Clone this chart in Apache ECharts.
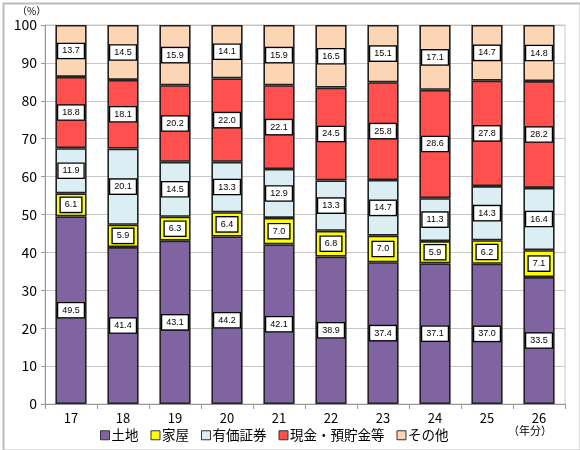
<!DOCTYPE html>
<html><head><meta charset="utf-8">
<script src="https://cdn.jsdelivr.net/npm/echarts@6/dist/echarts.min.js"></script>
<style>html,body{margin:0;padding:0;background:#fff}#c{width:580px;height:450px}</style>
</head><body><div id="c"></div>
<script>
const categories = ['17','18','19','20','21','22','23','24','25','26'];
const seriesNames = ['土地','家屋','有価証券','現金・預貯金等','その他'];
const land = [49.5,41.4,43.1,44.2,42.1,38.9,37.4,37.1,37.0,33.5];
const house = [6.1,5.9,6.3,6.4,7.0,6.8,7.0,5.9,6.2,7.1];
const securities = [11.9,20.1,14.5,13.3,12.9,13.3,14.7,11.3,14.3,16.4];
const cash = [18.8,18.1,20.2,22.0,22.1,24.5,25.8,28.6,27.8,28.2];
const other = [13.7,14.5,15.9,14.1,15.9,16.5,15.1,17.1,14.7,14.8];
const yTicks = [0,10,20,30,40,50,60,70,80,90,100];

const colors = ['#8064A2','#FFFF00','#DAEEF3','#FF5050','#FCD5B5'];
const allData = [land, house, securities, cash, other];
const font = '"Noto Sans CJK JP", "Noto Sans", sans-serif';

const chart = echarts.init(document.getElementById('c'));
chart.setOption({
  animation:false,
  textStyle:{fontFamily:font},
  grid:{left:45,right:15,top:25,bottom:46,show:true,borderColor:'#c8c8c8',borderWidth:1},
  legend:{bottom:3,left:95,itemWidth:9,itemHeight:9,itemGap:12,
    textStyle:{fontSize:13.5,color:'#000',fontFamily:font,padding:[0,0,0,-3]},
    data:seriesNames.map((n,i)=>({name:n,icon:'rect',itemStyle:{borderColor:'#333',borderWidth:1}}))},
  xAxis:{type:'category',data:categories,
    axisLine:{lineStyle:{color:'#999'}},
    axisTick:{show:true,lineStyle:{color:'#999'},length:5},
    axisLabel:{color:'#000',fontSize:13,margin:8}},
  yAxis:{type:'value',min:0,max:100,interval:10,
    axisLine:{show:true,lineStyle:{color:'#999'}},
    axisTick:{show:true,inside:false,length:4,lineStyle:{color:'#999'}},
    splitLine:{lineStyle:{color:'#c8c8c8'}},
    axisLabel:{color:'#000',fontSize:14,margin:8,
      formatter:v=>yTicks.includes(v)?String(v):''}},
  graphic:[
    {type:'rect',left:1,top:1,shape:{width:577,height:447},style:{fill:'none',stroke:'#bbb',lineWidth:2},silent:true},
    {type:'text',left:17,top:6,style:{text:'（%）',fill:'#000',font:'10px '+font}},
    {type:'text',left:508,top:425,style:{text:'（年分）',fill:'#000',font:'11px '+font}}
  ],
  series:allData.map((d,i)=>({
    name:seriesNames[i],type:'bar',stack:'total',barWidth:'60%',
    data:d,
    itemStyle:{color:colors[i],borderColor:'#222',borderWidth:1.6},
    label:{show:true,position:'inside',formatter:p=>p.value.toFixed(1),
      fontSize:9,color:'#000',backgroundColor:'#fff',borderColor:'#000',borderWidth:1.3,
      padding:[3,4,2,4],fontFamily:'"Liberation Sans", sans-serif'}
  }))
});
</script></body></html>
